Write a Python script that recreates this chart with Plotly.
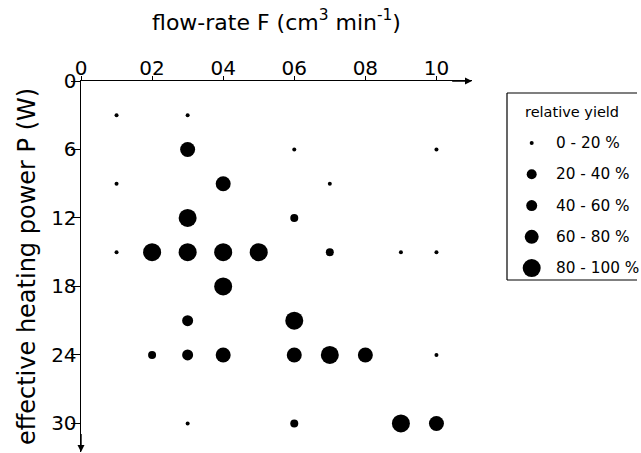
import plotly.graph_objects as go

# data: flow-rate F, heating power P, relative-yield class (1: 0-20 %, ..., 5: 80-100 %)
F = [0.1, 0.3,
     0.3, 0.6, 1.0,
     0.1, 0.4, 0.7,
     0.3, 0.6,
     0.1, 0.2, 0.3, 0.4, 0.5, 0.7, 0.9, 1.0,
     0.4,
     0.3, 0.6,
     0.2, 0.3, 0.4, 0.6, 0.7, 0.8, 1.0,
     0.3, 0.6, 0.9, 1.0]
P = [3, 3,
     6, 6, 6,
     9, 9, 9,
     12, 12,
     15, 15, 15, 15, 15, 15, 15, 15,
     18,
     21, 21,
     24, 24, 24, 24, 24, 24, 24,
     30, 30, 30, 30]
YCLASS = [1, 1,
          4, 1, 1,
          1, 4, 1,
          5, 2,
          1, 5, 5, 5, 5, 2, 1, 1,
          5,
          3, 5,
          2, 3, 4, 4, 5, 4, 1,
          1, 2, 5, 4]

CLASS_LABELS = ["0 - 20 %", "20 - 40 %", "40 - 60 %", "60 - 80 %", "80 - 100 %"]
X_TICKS = [0, 0.2, 0.4, 0.6, 0.8, 1.0]
X_TICKTEXT = ["0", "02", "04", "06", "08", "10"]
Y_TICKS = [0, 6, 12, 18, 24, 30]

SIZE = {1: 4, 2: 8, 3: 11, 4: 15, 5: 18}
LEG_SIZE = {1: 4, 2: 10, 3: 11, 4: 14, 5: 18}
FONT = "DejaVu Sans"

fig = go.Figure()
fig.add_trace(go.Scatter(
    x=F, y=P, mode="markers",
    marker=dict(color="#000000", opacity=1, size=[SIZE[c] for c in YCLASS], line=dict(width=0)),
    showlegend=False, cliponaxis=False, hoverinfo="skip",
))

# legend drawn on its own small axes
leg_idx = list(range(len(CLASS_LABELS)))
fig.add_trace(go.Scatter(
    x=[0.19] * len(leg_idx), y=leg_idx, mode="markers",
    marker=dict(color="#000000", opacity=1, size=[LEG_SIZE[i + 1] for i in leg_idx], line=dict(width=0)),
    xaxis="x2", yaxis="y2", showlegend=False, cliponaxis=False, hoverinfo="skip",
))
for i, lab in zip(leg_idx, CLASS_LABELS):
    fig.add_annotation(x=0.36, y=i, xref="x2", yref="y2", text=lab, showarrow=False,
                       xanchor="left", yanchor="middle",
                       font=dict(family=FONT, size=15.3, color="black"))
fig.add_annotation(x=0.5, y=-0.99, xref="x2", yref="y2", text="relative yield",
                   showarrow=False, xanchor="center", yanchor="middle",
                   font=dict(family=FONT, size=14.5, color="black"))
# open-sided frame (left, top, bottom)
frame = dict(color="black", width=1.2)
fig.add_shape(type="line", xref="x2 domain", yref="y2 domain", x0=0, x1=1, y0=1, y1=1, line=frame)
fig.add_shape(type="line", xref="x2 domain", yref="y2 domain", x0=0, x1=1, y0=0, y1=0, line=frame)
fig.add_shape(type="line", xref="x2 domain", yref="y2 domain", x0=0, x1=0, y0=0, y1=1, line=frame)

# axis arrows
fig.add_annotation(x=1.1, y=0, ax=1.04, ay=0, xref="x", yref="y", axref="x", ayref="y",
                   text="", showarrow=True, arrowhead=2, arrowsize=1, arrowwidth=1.4,
                   arrowcolor="black")
fig.add_annotation(x=0, y=32.5, ax=0, ay=30.8, xref="x", yref="y", axref="x", ayref="y",
                   text="", showarrow=True, arrowhead=2, arrowsize=1, arrowwidth=1.4,
                   arrowcolor="black")

W, H = 641, 453
L, R, T, B = 81, 1, 81, 1
pw = W - L - R
ph = H - T - B

fig.update_layout(
    width=W, height=H,
    margin=dict(l=L, r=R, t=T, b=B),
    paper_bgcolor="white", plot_bgcolor="white",
    font=dict(family=FONT, color="black"),
    xaxis=dict(
        domain=[0, (472 - L) / pw], range=[0, 1.1], side="top",
        showline=True, linecolor="black", linewidth=1.4,
        ticks="outside", ticklen=4, tickwidth=1, tickcolor="black",
        tickvals=X_TICKS, ticktext=X_TICKTEXT, ticklabelstandoff=-7,
        tickfont=dict(family=FONT, size=20, color="black"),
        showgrid=False, zeroline=False, automargin=False,
        title=dict(text="flow-rate F (cm<sup>3</sup> min<sup>-1</sup>)",
                   font=dict(family=FONT, size=22, color="black"), standoff=19),
    ),
    yaxis=dict(
        range=[32.5, 0],
        showline=True, linecolor="black", linewidth=1.4,
        ticks="outside", ticklen=9, tickwidth=1, tickcolor="black",
        tickvals=Y_TICKS, ticklabelstandoff=-10,
        tickfont=dict(family=FONT, size=20, color="black"),
        showgrid=False, zeroline=False, automargin=False,
        title=dict(text="effective heating power P (W)",
                   font=dict(family=FONT, size=24, color="black"), standoff=8),
    ),
    xaxis2=dict(domain=[(507 - L) / pw, (637 - L) / pw], range=[0, 1], anchor="y2",
                visible=False, fixedrange=True),
    yaxis2=dict(domain=[(H - B - 280) / ph, (H - B - 93) / ph], range=[4.38, -1.6],
                anchor="x2", visible=False, fixedrange=True),
)

fig.write_html("out.html", config={"displayModeBar": False, "staticPlot": True},
               post_script="document.body.style.margin='0';document.body.style.overflow='hidden';")
